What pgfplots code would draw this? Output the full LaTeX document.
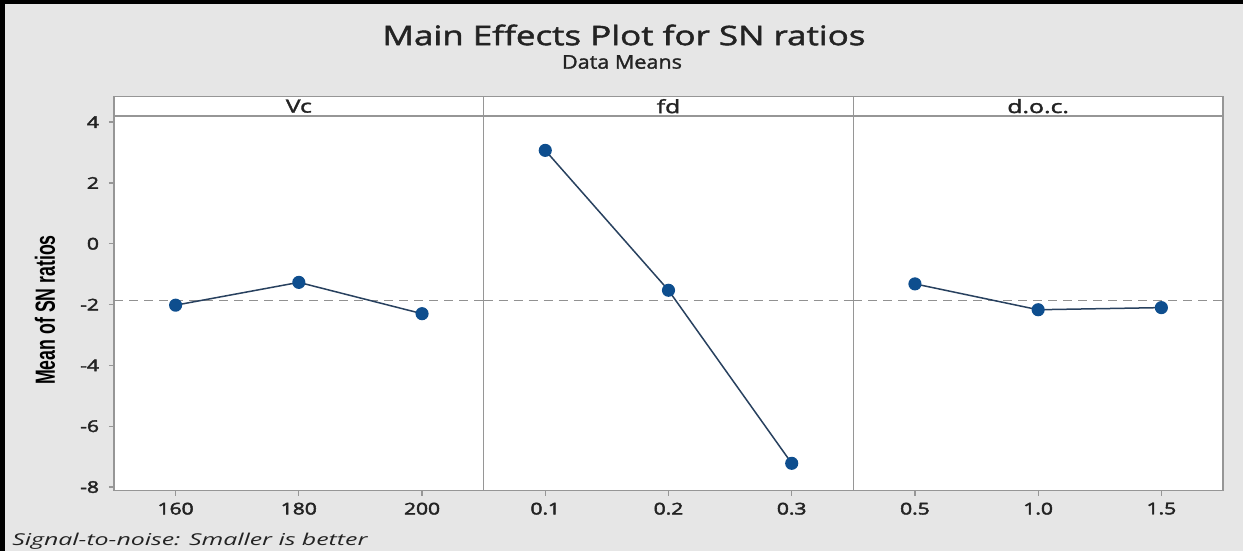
\documentclass[border=0pt]{standalone}
\usepackage{fontspec}
\setmainfont{Open Sans}
\newfontfamily\semib{Open Sans}[FakeBold=2.5]
\newfontfamily\medf{Open Sans}[FakeBold=1.5]
\newfontfamily\labfont{Liberation Sans}
\usepackage{graphicx}
\usepackage{pgfplots}
\pgfplotsset{compat=1.18}
\definecolor{bgc}{RGB}{230,230,230}
\definecolor{axc}{RGB}{150,150,150}
\definecolor{markc}{RGB}{14,78,142}
\definecolor{linec}{RGB}{40,65,95}
\definecolor{dashc}{RGB}{145,145,145}
\definecolor{txt}{RGB}{35,35,35}
\newcommand{\sx}[1]{\scalebox{1.3}[1]{#1}}
\newcommand{\sxs}[1]{\scalebox{1.35}[1]{#1}}
\pgfplotsset{panel/.style={
  at={(#1,30.15bp)}, anchor=south west, scale only axis,
  width=184.83bp, height=187.35bp,
  xmin=-0.5, xmax=2.5, ymin=-8.12, ymax=4.2, xtick={0,1,2},
  axis line style={draw=axc, line width=0.75bp},
  tick style={draw=axc, line width=0.6bp},
  tick align=outside, major tick length=2.5bp,
  xtick pos=lower, ytick pos=left,
  tick label style={font=\semib\fontsize{8.1}{9}\selectfont, text=txt},
  yticklabel style={xshift=-1.5bp},
  axis background/.style={fill=white},
  clip=false},
  datal/.style={linec, line width=0.75bp, mark=*, mark size=2.9bp,
    mark options={fill=markc, draw=markc, solid}},
  meanl/.style={dashc, line width=0.6bp, dash pattern=on 4.5bp off 3bp}
}
\begin{document}
\begin{tikzpicture}
\path[use as bounding box] (0,0) rectangle (621.5bp,275.5bp);
\fill[bgc] (0,0) rectangle (621.5bp,275.5bp);
\fill[black] (0,0) rectangle (2.5bp,275.5bp);
\fill[black] (0,273.5bp) rectangle (621.5bp,275.5bp);

\begin{axis}[panel=57bp,
  xticklabels={\sx{160},\sx{180},\sx{200}},
  ytick={-8,-6,-4,-2,0,2,4},
  yticklabels={\sx{-8},\sx{-6},\sx{-4},\sx{-2},\sx{0},\sx{2},\sx{4}}]
\addplot[meanl] coordinates {(-0.5,-1.87) (2.5,-1.87)};
\addplot[datal] coordinates {(0,-2.02) (1,-1.27) (2,-2.30)};
\end{axis}

\begin{axis}[panel=241.83bp, ytick=\empty,
  xticklabels={\sx{0.1},\sx{0.2},\sx{0.3}}]
\addplot[meanl] coordinates {(-0.5,-1.87) (2.5,-1.87)};
\addplot[datal] coordinates {(0,3.07) (1,-1.53) (2,-7.22)};
\end{axis}

\begin{axis}[panel=426.66bp, ytick=\empty,
  xticklabels={\sx{0.5},\sx{1.0},\sx{1.5}}]
\addplot[meanl] coordinates {(-0.5,-1.87) (2.5,-1.87)};
\addplot[datal] coordinates {(0,-1.32) (1,-2.17) (2,-2.10)};
\end{axis}

% strips
\foreach \x/\lab in {57/Vc, 241.83/fd, 426.66/d.o.c.}{
  \draw[axc, line width=0.75bp, fill=white] (\x bp,217.5bp) rectangle ++(184.83bp,9.65bp);
  \node[text=txt, inner sep=0pt] at ([xshift=92.415bp]\x bp,222.4bp) {\sxs{\medf\fontsize{9.2}{11}\selectfont \lab}};
}

% titles
\node[text=txt, inner sep=0pt] at (312bp,258bp) {\resizebox{241.5bp}{\height}{\medf\fontsize{13.5}{16}\selectfont Main Effects Plot for SN ratios}};
\node[text=txt, inner sep=0pt] at (311bp,244.5bp) {\resizebox{60bp}{\height}{\medf\fontsize{9.5}{11}\selectfont Data Means}};

% y label
\node[text=black, inner sep=0pt, rotate=90] at (22.5bp,120.5bp) {\scalebox{0.64}[1]{\labfont\bfseries\fontsize{13.9}{16}\selectfont Mean of SN ratios}};

% footnote
\node[text=txt, anchor=west, inner sep=0pt] at (6bp,5bp) {\resizebox{177.5bp}{\height}{\fontsize{8.2}{10}\selectfont\itshape Signal-to-noise: Smaller is better}};
\end{tikzpicture}
\end{document}
